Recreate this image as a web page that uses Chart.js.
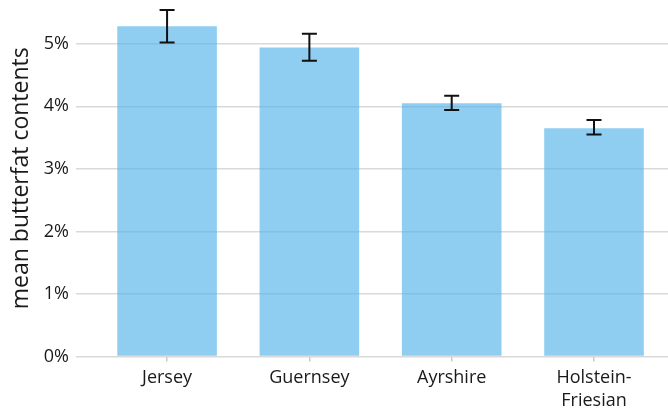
<!DOCTYPE html>
<html lang="en">
<head>
<meta charset="UTF-8">
<title>Butterfat contents</title>
<script src="https://cdn.jsdelivr.net/npm/chart.js"></script>
<style>
  html, body { margin: 0; padding: 0; background: #fff; }
  .wrap { width: 668px; height: 411px; position: relative; }
</style>
</head>
<body>
<div class="wrap"><canvas id="fatChart"></canvas></div>
<script>
// datos
const breeds = [['Jersey'], ['Guernsey'], ['Ayrshire'], ['Holstein-', 'Friesian']];
const meanFat = [5.28, 4.94, 4.05, 3.65];
const lowerFat = [5.02, 4.73, 3.94, 3.55];
const upperFat = [5.54, 5.16, 4.17, 3.78];
const yTicks = [0, 1, 2, 3, 4, 5];

const FONT = '"Open Sans", sans-serif';

// barras de error dibujadas con las escalas del grafico
const errorBars = {
  id: 'errorBars',
  afterDatasetsDraw(chart) {
    const { ctx, scales: { x, y } } = chart;
    ctx.save();
    ctx.strokeStyle = '#111';
    ctx.lineWidth = 2;
    meanFat.forEach((m, i) => {
      const px = x.getPixelForValue(i + 1);
      const top = y.getPixelForValue(upperFat[i]);
      const bot = y.getPixelForValue(lowerFat[i]);
      const cap = 7.5;
      ctx.beginPath();
      ctx.moveTo(px, top); ctx.lineTo(px, bot);
      ctx.moveTo(px - cap, top); ctx.lineTo(px + cap, top);
      ctx.moveTo(px - cap, bot); ctx.lineTo(px + cap, bot);
      ctx.stroke();
    });
    ctx.restore();
  }
};

new Chart(document.getElementById('fatChart'), {
  type: 'bar',
  data: {
    datasets: [{
      data: meanFat.map((v, i) => ({ x: i + 1, y: v })),
      backgroundColor: 'rgba(86, 180, 233, 0.66)',
      borderWidth: 0,
      barPercentage: 0.7,
      categoryPercentage: 1
    }]
  },
  options: {
    responsive: true,
    maintainAspectRatio: false,
    animation: false,
    layout: { padding: 0 },
    plugins: { legend: { display: false }, tooltip: { enabled: false } },
    scales: {
      x: {
        type: 'linear',
        offset: false,
        min: 0.36,
        max: 4.52,
        afterBuildTicks: s => { s.ticks = breeds.map((b, i) => ({ value: i + 1 })); },
        afterFit: s => { s.height = 54.5; s.paddingLeft = 0; s.paddingRight = 0; },
        grid: { offset: false, drawOnChartArea: false, drawTicks: true, tickLength: 5, color: '#c8c8c8', lineWidth: 1.5 },
        border: { display: false },
        ticks: {
          callback: v => breeds[v - 1],
          color: '#1a1a1a',
          font: { family: FONT, size: 18, lineHeight: 1.28 },
          padding: 5,
          maxRotation: 0,
          autoSkip: false
        }
      },
      y: {
        min: 0,
        max: 5.7,
        afterBuildTicks: s => { s.ticks = yTicks.map(v => ({ value: v })); },
        afterFit: s => { s.width = 76; s.paddingTop = 0; s.paddingBottom = 0; },
        grid: { color: '#d9d9d9', lineWidth: 1.6, drawTicks: false },
        border: { display: false },
        ticks: {
          callback: v => v + '%',
          color: '#1a1a1a',
          font: { family: FONT, size: 18 },
          padding: 7
        },
        title: {
          display: true,
          text: 'mean butterfat contents',
          color: '#1a1a1a',
          font: { family: FONT, size: 23 },
          padding: { top: 8, bottom: 0 }
        }
      }
    }
  },
  plugins: [errorBars]
});
</script>
</body>
</html>
